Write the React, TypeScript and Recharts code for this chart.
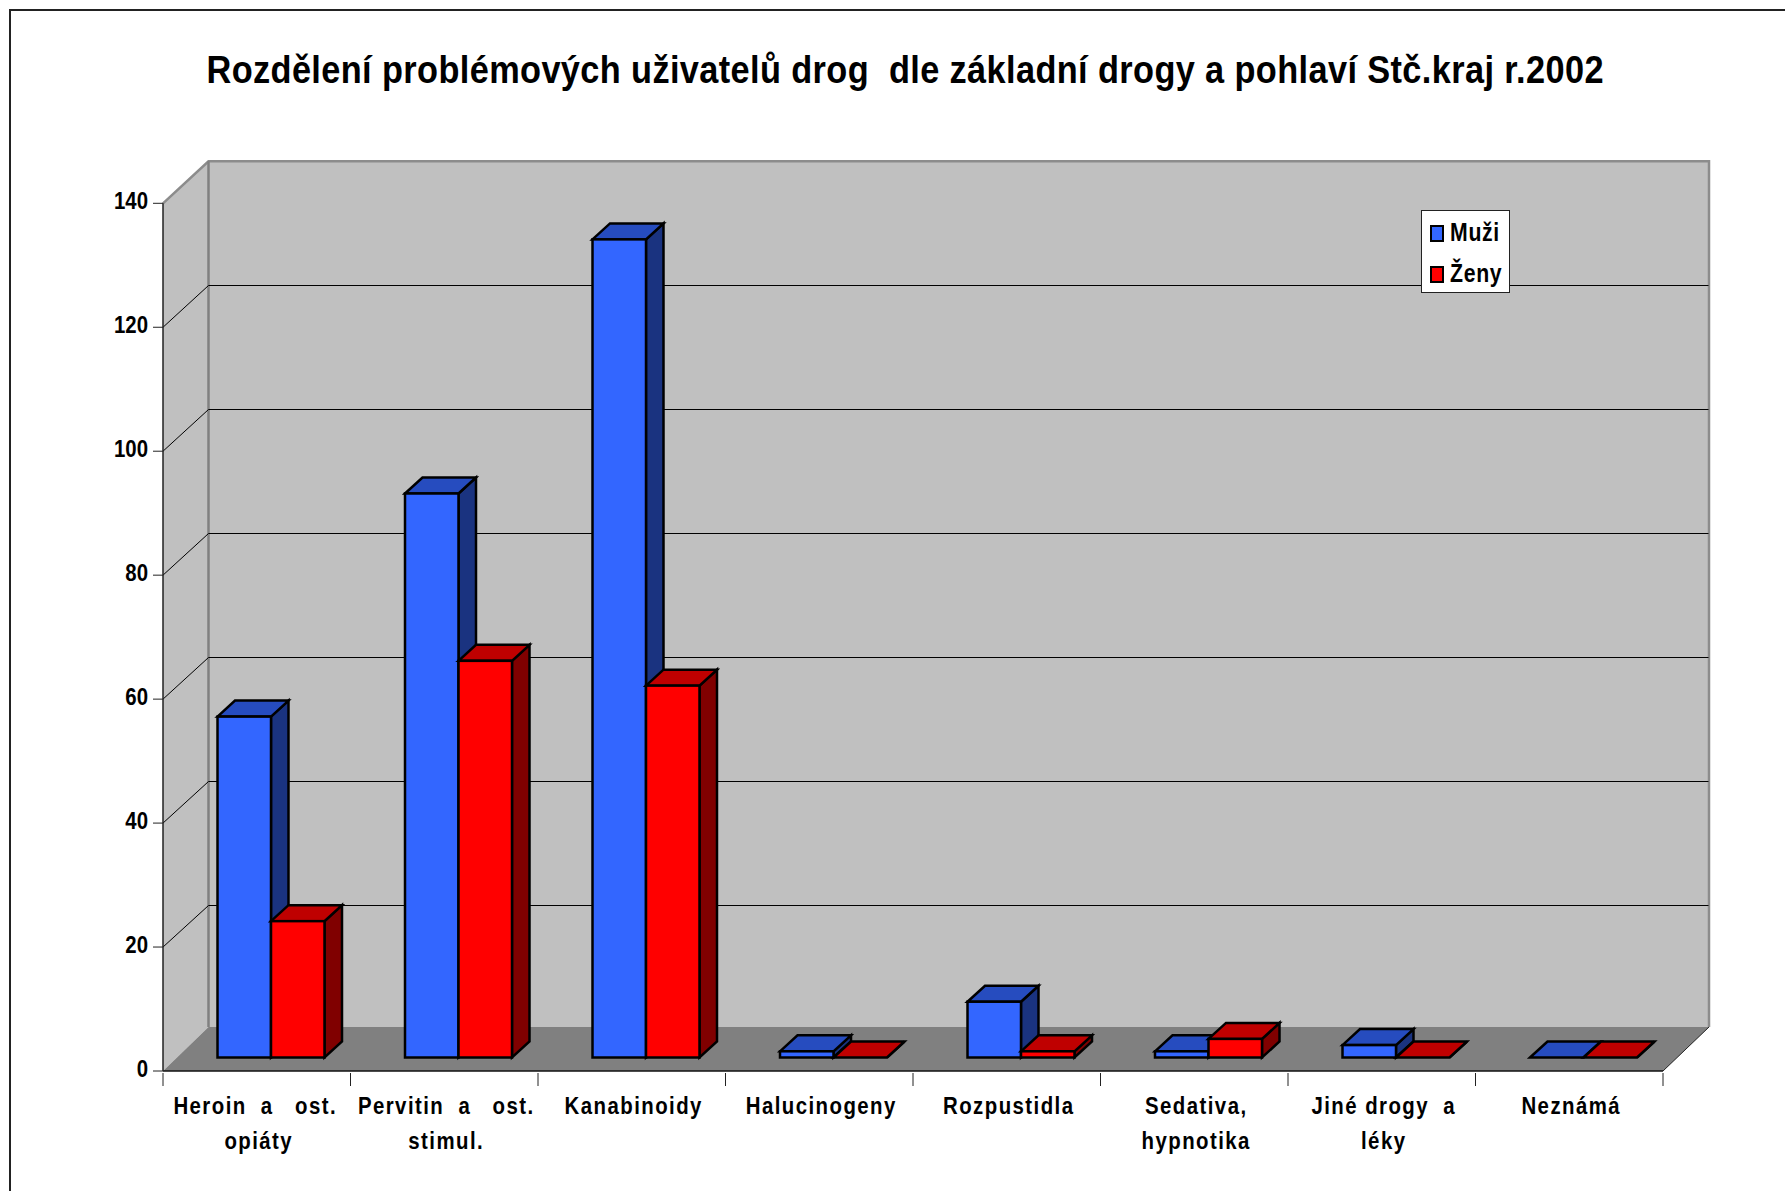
import { BarChart, Bar, XAxis, YAxis, CartesianGrid, Legend } from 'recharts'

const categories = [
  'Heroin  a   ost. |opiáty',
  'Pervitin  a   ost.|stimul.',
  'Kanabinoidy',
  'Halucinogeny',
  'Rozpustidla',
  'Sedativa,|hypnotika',
  'Jiné drogy  a|léky',
  'Neznámá',
]
const muzi = [55, 91, 132, 1, 9, 1, 2, 0]
const zeny = [22, 64, 60, 0, 1, 3, 0, 0]
const yTicks = [0, 20, 40, 60, 80, 100, 120, 140]
const wallLines = [20, 40, 60, 80, 100, 120]

const data = categories.map((name, i) => ({ name, muzi: muzi[i], zeny: zeny[i] }))

const W = 1785
const H = 1191
// predni rovina grafu
const LEFT = 163
const RIGHT = 1663
const TOP = 203.3
const BOTTOM = 1071
// hloubka steny a sloupcu
const WALL_DX = 45.5
const WALL_DY = 42
const BAR_DX = 17.5
const BAR_DY = 16
const BAR_SHIFT_X = 14.5
const BAR_SHIFT_Y = 13.5

const FONT = '"Liberation Sans", Arial, sans-serif'
const NARROW = 0.85
const TITLE_NARROW = 0.88
const shades: Record<string, { top: string; side: string }> = {
  '#3366FF': { top: '#264CBF', side: '#1A3380' },
  '#FF0000': { top: '#BF0000', side: '#800000' },
}

// steny a podlaha lezi pod samotnym grafem, mrizka musi byt nad nimi
function Backdrop() {
  const backL = LEFT + WALL_DX
  const backR = RIGHT + WALL_DX + 0.5
  const backT = TOP - WALL_DY
  const floorY = 1027
  return (
    <svg width={W} height={H} style={{ position: 'absolute', left: 0, top: 0 }}>
      <rect x={10} y={10} width={W} height={H} fill="none" stroke="#222" strokeWidth={2} />
      <text
        transform={`translate(206.5 83) scale(${TITLE_NARROW} 1)`}
        fontFamily={FONT}
        fontWeight="bold"
        fontSize={39}
        textLength={1397 / TITLE_NARROW}
        lengthAdjust="spacing"
        style={{ whiteSpace: 'pre' }}
      >
        Rozdělení problémových uživatelů drog  dle základní drogy a pohlaví Stč.kraj r.2002
      </text>
      <polygon points={`${LEFT},${TOP} ${backL},${backT} ${backL},${floorY} ${LEFT},${BOTTOM}`} fill="#C0C0C0" />
      <rect x={backL} y={backT} width={backR - backL} height={floorY - backT} fill="#C0C0C0" />
      <polygon points={`${LEFT},${BOTTOM} ${backL},${floorY} ${backR},${floorY} ${RIGHT},${BOTTOM}`} fill="#808080" />
      <polyline
        points={`${LEFT},${TOP} ${backL},${backT} ${backR},${backT} ${backR},${floorY}`}
        fill="none"
        stroke="#8C8C8C"
        strokeWidth={2.5}
      />
      <line x1={backL} y1={backT} x2={backL} y2={floorY} stroke="#808080" strokeWidth={2.5} />
      <line x1={RIGHT} y1={BOTTOM} x2={backR} y2={floorY} stroke="#222" strokeWidth={1} />
    </svg>
  )
}

function WallLine(props: any) {
  const { x1, x2, y1 } = props
  const back = Math.round(y1 - WALL_DY) + 0.5
  return (
    <g key={props.key} stroke="#000" strokeWidth={1}>
      <line x1={x1} y1={y1} x2={x1 + WALL_DX} y2={back} />
      <line x1={x1 + WALL_DX} y1={back} x2={x2 + WALL_DX} y2={back} />
    </g>
  )
}

function Box3D(props: any) {
  const { x, y, width, height, fill } = props
  const l = x + BAR_SHIFT_X
  const r = l + width
  const t = y - BAR_SHIFT_Y
  const b = t + height
  const { top, side } = shades[fill]
  return (
    <g stroke="#000" strokeWidth={2.5} strokeLinejoin="miter">
      <polygon
        points={`${r},${t} ${r + BAR_DX},${t - BAR_DY} ${r + BAR_DX},${b - BAR_DY} ${r},${b}`}
        fill={side}
      />
      <polygon
        points={`${l},${t} ${l + BAR_DX},${t - BAR_DY} ${r + BAR_DX},${t - BAR_DY} ${r},${t}`}
        fill={top}
      />
      <rect x={l} y={t} width={width} height={height} fill={fill} />
    </g>
  )
}

function CategoryTick(props: any) {
  const { x, y, payload, index } = props
  const step = (RIGHT - LEFT) / categories.length
  const lines = String(payload.value).split('|')
  return (
    <g>
      <line x1={x - step / 2} y1={y} x2={x - step / 2} y2={y + 13} stroke="#222" strokeWidth={1} />
      {index === categories.length - 1 && (
        <line x1={x + step / 2} y1={y} x2={x + step / 2} y2={y + 13} stroke="#222" strokeWidth={1} />
      )}
      {lines.map((line, i) => (
        <text
          key={i}
          transform={`translate(${x + 2} ${y + 41 + i * 35}) scale(${NARROW} 1)`}
          textAnchor="middle"
          fontFamily={FONT}
          fontWeight="bold"
          fontSize={24}
          letterSpacing={1.7}
          fill="#000"
          style={{ whiteSpace: 'pre' }}
        >
          {line}
        </text>
      ))}
    </g>
  )
}

function ValueTick(props: any) {
  const { x, y, payload } = props
  return (
    <text
      transform={`translate(${x} ${y - 2.5}) scale(${NARROW} 1)`}
      dy="0.355em"
      textAnchor="end"
      fontFamily={FONT}
      fontWeight="bold"
      fontSize={24}
      fill="#000"
    >
      {payload.value}
    </text>
  )
}

function LegendBox({ payload }: any) {
  return (
    <div
      style={{
        width: 89,
        height: 83,
        boxSizing: 'border-box',
        background: '#fff',
        border: '1px solid #222',
        fontFamily: FONT,
        fontWeight: 'bold',
        fontSize: 25,
        color: '#000',
        position: 'relative',
      }}
    >
      {(payload || []).map((item: any, i: number) => (
        <div key={item.value} style={{ position: 'absolute', left: 8, top: 6 + i * 41, height: 30, lineHeight: '30px', whiteSpace: 'nowrap' }}>
          <span
            style={{
              display: 'inline-block',
              width: 14,
              height: 17,
              boxSizing: 'border-box',
              background: item.color,
              border: '2px solid #000',
              marginRight: 6,
              verticalAlign: -1,
            }}
          />
          <span style={{ display: 'inline-block', transform: `scaleX(${NARROW})`, transformOrigin: 'left', letterSpacing: 0.8 }}>
            {item.value}
          </span>
        </div>
      ))}
    </div>
  )
}

export default function App() {
  return (
    <div style={{ position: 'absolute', left: 0, top: 0, width: W, height: H, background: '#fff', overflow: 'hidden' }}>
      <Backdrop />
      <BarChart
        width={W}
        height={H}
        data={data}
        margin={{ top: TOP, right: W - RIGHT, bottom: 0, left: 0 }}
        barSize={53.5}
        barGap={0}
        style={{ position: 'absolute', left: 0, top: 0 }}
      >
        <CartesianGrid vertical={false} horizontalValues={wallLines} horizontal={WallLine} />
        <XAxis
          dataKey="name"
          height={H - BOTTOM}
          interval={0}
          tickLine={false}
          tickSize={0}
          tick={CategoryTick}
          axisLine={{ stroke: '#111', strokeWidth: 1.5 }}
        />
        <YAxis
          width={LEFT}
          domain={[0, 140]}
          ticks={yTicks}
          interval={0}
          tickSize={10}
          tickMargin={5}
          axisLine={{ stroke: '#222', strokeWidth: 1.5 }}
          tickLine={{ stroke: '#222', strokeWidth: 1 }}
          tick={ValueTick}
        />
        <Legend
          layout="vertical"
          align="center"
          verticalAlign="middle"
          content={LegendBox}
          wrapperStyle={{ left: 1421, top: 210, width: 89, height: 83 }}
        />
        <Bar dataKey="muzi" name="Muži" fill="#3366FF" shape={Box3D} isAnimationActive={false} />
        <Bar dataKey="zeny" name="Ženy" fill="#FF0000" shape={Box3D} isAnimationActive={false} />
      </BarChart>
    </div>
  )
}
